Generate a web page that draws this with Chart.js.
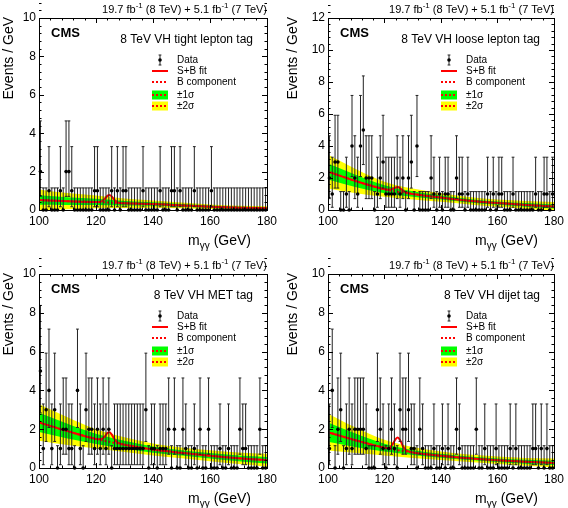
<!DOCTYPE html>
<html>
<head>
<meta charset="utf-8">
<title>CMS VH diphoton categories</title>
<script src="https://cdn.jsdelivr.net/npm/chart.js@4.4.0/dist/chart.umd.min.js"></script>
<style>
  body { margin: 0; background: #fff; }
  #wrap { position: relative; width: 568px; height: 508px; }
  .panel { position: absolute; width: 284px; height: 254px; }
</style>
</head>
<body>
<div id="wrap">
  <div class="panel" style="left:0;top:0"><canvas id="c1" width="284" height="254"></canvas></div>
  <div class="panel" style="left:284px;top:0"><canvas id="c2" width="284" height="254"></canvas></div>
  <div class="panel" style="left:0;top:254px"><canvas id="c3" width="284" height="254"></canvas></div>
  <div class="panel" style="left:284px;top:254px"><canvas id="c4" width="284" height="254"></canvas></div>
</div>
<script>
// m_gg histogram: 1 GeV bins from 100 to 180
const binLow = 100;
const binWidth = 1;

const countsTightLepton = [2,0,0,1,0,0,0,1,0,2, 2,1,0,0,0,0,0,0,0,1, 1,0,0,0,0,1,0,1,0,1,
  1,0,0,0,0,0,1,0,0,0, 0,0,1,0,0,0,1,1,0,1, 0,0,0,0,1,0,0,0,0,0, 1,0,0,0,0,0,0,0,0,0, 0,0,0,0,0,0,0,0,0,0];
const countsLooseLepton = [2,1,3,3,0,0,1,0,4,2, 1,4,5,2,2,2,0,1,2,3, 1,1,1,1,2,1,2,0,2,3,
  0,4,0,0,0,0,2,1,0,1, 0,1,1,0,0,2,1,1,0,1, 0,0,0,0,0,0,1,0,1,0, 1,1,0,0,0,1,0,0,0,0, 0,0,0,1,0,0,1,1,0,1];
const countsMet = [5,1,3,4,1,3,0,1,2,2, 1,1,0,4,1,0,3,2,2,1, 2,1,2,1,2,0,1,1,1,1,
  1,1,1,1,1,1,1,3,0,1, 1,0,1,1,1,2,0,2,0,0, 2,1,0,0,1,0,2,0,0,2, 0,0,0,1,0,0,1,0,0,0, 2,1,1,0,0,0,0,2,0,0];
const countsDijet = [1,4,0,2,3,0,1,2,1,2, 2,2,2,1,0,0,0,3,2,1, 0,1,2,1,0,3,2,2,3,1,
  1,0,2,1,0,0,0,1,0,0, 1,0,1,0,0,2,1,0,0,0, 0,0,2,0,0,1,0,0,0,1, 0,0,0,0,1,0,1,0,0,0, 0,0,1,1,0,1,0,1,0,0];

// Poisson interval edges for n = 0..5
const poissonLow = [0, 0.17, 0.71, 1.37, 2.09, 2.84];
const poissonHigh = [1.15, 3.30, 4.64, 5.92, 7.16, 8.38];

// B component and band half widths, sampled every 10 GeV
const bkgMass = [100, 110, 120, 130, 140, 150, 160, 170, 180];
const bkgTightLepton = [0.52, 0.46, 0.42, 0.35, 0.31, 0.24, 0.17, 0.12, 0.09];
const err1TightLepton = [0.25, 0.2, 0.16, 0.12, 0.09, 0.07, 0.06, 0.05, 0.05];
const err2TightLepton = [0.55, 0.42, 0.33, 0.25, 0.19, 0.15, 0.12, 0.1, 0.1];
const bkgLooseLepton = [2.4, 1.8, 1.3, 1.0, 0.78, 0.58, 0.43, 0.32, 0.22];
const err1LooseLepton = [0.5, 0.38, 0.25, 0.17, 0.13, 0.11, 0.1, 0.11, 0.13];
const err2LooseLepton = [1.05, 0.75, 0.47, 0.34, 0.27, 0.23, 0.22, 0.24, 0.28];
const bkgMet = [2.35, 1.9, 1.5, 1.2, 0.95, 0.78, 0.63, 0.5, 0.4];
const err1Met = [0.5, 0.38, 0.26, 0.2, 0.16, 0.14, 0.14, 0.15, 0.17];
const err2Met = [0.95, 0.72, 0.5, 0.38, 0.31, 0.28, 0.28, 0.3, 0.34];
const bkgDijet = [1.85, 1.42, 1.05, 0.8, 0.63, 0.5, 0.4, 0.32, 0.26];
const err1Dijet = [0.5, 0.35, 0.2, 0.13, 0.1, 0.09, 0.09, 0.1, 0.11];
const err2Dijet = [0.95, 0.65, 0.4, 0.28, 0.22, 0.19, 0.19, 0.2, 0.23];

// S+B fit curve, denser around the peak
const sbMass = [100, 110, 120, 121, 122, 123, 124, 124.7, 125.5, 126.5, 127.5, 128.5, 130, 140, 150, 160, 170, 180];
const sbTightLepton = [0.52, 0.46, 0.42, 0.42, 0.45, 0.565, 0.735, 0.785, 0.71, 0.52, 0.40, 0.365, 0.35, 0.31, 0.24, 0.17, 0.12, 0.09];
const sbLooseLepton = [2.4, 1.8, 1.3, 1.27, 1.28, 1.33, 1.41, 1.43, 1.36, 1.21, 1.11, 1.05, 1.0, 0.78, 0.58, 0.43, 0.32, 0.22];
const sbMet = [2.35, 1.9, 1.5, 1.48, 1.50, 1.61, 1.80, 1.84, 1.73, 1.48, 1.32, 1.25, 1.2, 0.95, 0.78, 0.63, 0.5, 0.4];
const sbDijet = [1.85, 1.42, 1.05, 1.03, 1.07, 1.25, 1.5, 1.57, 1.44, 1.14, 0.93, 0.86, 0.8, 0.63, 0.5, 0.4, 0.32, 0.26];

const legendLabels = ['Data', 'S+B fit', 'B component', '\u00b11\u03c3', '\u00b12\u03c3'];

const FONT = "'Liberation Sans', Arial, Helvetica, sans-serif";
Chart.defaults.font.family = FONT;
Chart.defaults.color = '#000';

const panels = [
  { id: 'c1', label: '8 TeV VH tight lepton tag', counts: countsTightLepton, bkg: bkgTightLepton,
    err1: err1TightLepton, err2: err2TightLepton, sb: sbTightLepton, yMax: 10,
    area: { left: 39, right: 267, top: 18, bottom: 210 } },
  { id: 'c2', label: '8 TeV VH loose lepton tag', counts: countsLooseLepton, bkg: bkgLooseLepton,
    err1: err1LooseLepton, err2: err2LooseLepton, sb: sbLooseLepton, yMax: 12,
    area: { left: 44, right: 273, top: 18, bottom: 210 } },
  { id: 'c3', label: '8 TeV VH MET tag', counts: countsMet, bkg: bkgMet,
    err1: err1Met, err2: err2Met, sb: sbMet, yMax: 10,
    area: { left: 39, right: 267, top: 20, bottom: 214 } },
  { id: 'c4', label: '8 TeV VH dijet tag', counts: countsDijet, bkg: bkgDijet,
    err1: err1Dijet, err2: err2Dijet, sb: sbDijet, yMax: 10,
    area: { left: 44, right: 273, top: 20, bottom: 214 } }
];

const DATA_INDEX = 6;

// draw text made of [string, mode] pieces; mode 0 normal, 1 superscript, 2 subscript
function drawRich(ctx, pieces, xRight, y, size) {
  const fontFor = m => (m === 0 ? size : Math.round(size * 0.72)) + 'px ' + FONT;
  let total = 0;
  pieces.forEach(([s, m]) => { ctx.font = fontFor(m); total += ctx.measureText(s).width; });
  let x = xRight - total;
  ctx.textAlign = 'left';
  ctx.textBaseline = 'middle';
  pieces.forEach(([s, m]) => {
    ctx.font = fontFor(m);
    const dy = m === 1 ? -size * 0.35 : (m === 2 ? size * 0.35 : 0);
    ctx.fillText(s, x, y + dy);
    x += ctx.measureText(s).width;
  });
}

function errorBar(ctx, x, yLo, yHi, cap) {
  ctx.moveTo(x, yLo); ctx.lineTo(x, yHi);
  ctx.moveTo(x - cap, yHi); ctx.lineTo(x + cap, yHi);
  ctx.moveTo(x - cap, yLo); ctx.lineTo(x + cap, yLo);
}

function makeDecor(p) {
  return {
    id: 'decor',
    beforeDatasetDraw(chart, args) {
      if (args.index !== DATA_INDEX) return;
      const ctx = chart.ctx, xs = chart.scales.x, ys = chart.scales.y;
      ctx.save();
      ctx.strokeStyle = '#222';
      ctx.lineWidth = 1;
      ctx.beginPath();
      p.counts.forEach((n, i) => {
        const px = xs.getPixelForValue(binLow + (i + 0.5) * binWidth);
        errorBar(ctx, px, ys.getPixelForValue(poissonLow[n]), ys.getPixelForValue(poissonHigh[n]), 1.4);
      });
      ctx.stroke();
      ctx.restore();
    },
    afterDatasetsDraw(chart) {
      const ctx = chart.ctx, a = chart.chartArea, xs = chart.scales.x, ys = chart.scales.y;
      ctx.save();
      ctx.strokeStyle = '#000';
      ctx.lineWidth = 1;
      ctx.beginPath();
      // ticks on all four sides, pointing inwards
      for (let m = 100; m <= 180; m += 4) {
        const px = Math.round(xs.getPixelForValue(m)) + 0.5;
        const len = (m - 100) % 20 === 0 ? 5 : 2.5;
        ctx.moveTo(px, a.bottom); ctx.lineTo(px, a.bottom - len);
        ctx.moveTo(px, a.top); ctx.lineTo(px, a.top + len);
      }
      for (let k = 0; k <= p.yMax * 5; k++) {
        const v = k * 0.4;
        const py = Math.round(ys.getPixelForValue(v)) + 0.5;
        const len = k % 5 === 0 ? 5 : 2.5;
        ctx.moveTo(a.left, py); ctx.lineTo(a.left + len, py);
        ctx.moveTo(a.right, py); ctx.lineTo(a.right - len, py);
      }
      ctx.stroke();
      ctx.strokeRect(Math.round(a.left) + 0.5, Math.round(a.top) + 0.5,
        Math.round(a.right - a.left), Math.round(a.bottom - a.top));
      ctx.restore();
    },
    afterDraw(chart) {
      const ctx = chart.ctx, a = chart.chartArea;
      ctx.save();
      ctx.fillStyle = '#000';

      drawRich(ctx, [['19.7 fb', 0], ['-1', 1], [' (8 TeV) + 5.1 fb', 0], ['-1', 1], [' (7 TeV)', 0]],
        a.right, a.top - 8, 11);
      drawRich(ctx, [['m', 0], ['\u03b3\u03b3', 2], [' (GeV)', 0]], a.right - 16, a.bottom + 31, 14);

      ctx.save();
      ctx.translate(9, a.top - 1);
      ctx.rotate(-Math.PI / 2);
      ctx.font = '14px ' + FONT;
      ctx.textAlign = 'right';
      ctx.textBaseline = 'middle';
      ctx.fillText('Events / GeV', 0, 0);
      ctx.restore();

      ctx.font = 'bold 13px ' + FONT;
      ctx.textAlign = 'left';
      ctx.textBaseline = 'middle';
      ctx.fillText('CMS', a.left + 12, a.top + 15);

      ctx.font = '12px ' + FONT;
      ctx.textAlign = 'right';
      ctx.fillText(p.label, a.right - 14, a.top + 22);

      // legend
      const sx = a.left + 113, sw = 16, tx = a.left + 138;
      const rows = [42, 53, 64, 77, 88].map(d => a.top + d);
      ctx.font = '10px ' + FONT;
      ctx.textAlign = 'left';
      legendLabels.forEach((t, i) => ctx.fillText(t, tx, rows[i]));

      ctx.strokeStyle = '#222';
      ctx.lineWidth = 1;
      ctx.beginPath();
      errorBar(ctx, sx + sw / 2, rows[0] + 5, rows[0] - 5, 1.4);
      ctx.stroke();
      ctx.beginPath();
      ctx.arc(sx + sw / 2, rows[0], 1.8, 0, Math.PI * 2);
      ctx.fill();

      ctx.fillStyle = '#00ff00';
      ctx.fillRect(sx, rows[3] - 4.5, sw, 9);
      ctx.fillStyle = '#ffff00';
      ctx.fillRect(sx, rows[4] - 4.5, sw, 9);

      ctx.strokeStyle = '#ff0000';
      ctx.lineWidth = 2;
      ctx.beginPath();
      ctx.moveTo(sx, rows[1]); ctx.lineTo(sx + sw, rows[1]);
      ctx.stroke();
      ctx.setLineDash([2, 2]);
      ctx.beginPath();
      [2, 3, 4].forEach(r => { ctx.moveTo(sx, rows[r]); ctx.lineTo(sx + sw, rows[r]); });
      ctx.stroke();
      ctx.restore();
    }
  };
}

function buildChart(p) {
  const bins = p.counts.map((n, i) => ({ x: binLow + (i + 0.5) * binWidth, y: n }));
  const band = (w, s) => bkgMass.map((m, i) => ({ x: m, y: p.bkg[i] + s * w[i] }));
  const curve = { pointRadius: 0, cubicInterpolationMode: 'monotone' };
  const edge = { ...curve, borderWidth: 0, borderColor: 'transparent', fill: false };

  new Chart(document.getElementById(p.id), {
    type: 'line',
    data: {
      datasets: [
        { ...edge, data: band(p.err2, 1), fill: '+1', backgroundColor: '#ffff00', order: 5 },
        { ...edge, data: band(p.err2, -1), order: 5 },
        { ...edge, data: band(p.err1, 1), fill: '+1', backgroundColor: '#00ff00', order: 4 },
        { ...edge, data: band(p.err1, -1), order: 4 },
        { ...curve, data: bkgMass.map((m, i) => ({ x: m, y: p.bkg[i] })), borderColor: '#ff0000',
          borderWidth: 2, borderDash: [2, 2], fill: false, order: 3 },
        { ...curve, data: sbMass.map((m, i) => ({ x: m, y: p.sb[i] })), borderColor: '#ff0000',
          borderWidth: 2, fill: false, order: 2 },
        { data: bins, showLine: false, pointRadius: 1.8, pointBackgroundColor: '#000',
          pointBorderWidth: 0, clip: false, order: 1 }
      ]
    },
    options: {
      responsive: false,
      animation: false,
      events: [],
      layout: {
        padding: { left: 0, top: p.area.top, right: 284 - p.area.right, bottom: 254 - p.area.bottom - 20 }
      },
      plugins: { legend: { display: false }, tooltip: { enabled: false } },
      scales: {
        x: {
          type: 'linear', min: 100, max: 180,
          grid: { display: false, drawTicks: false }, border: { display: false },
          ticks: { stepSize: 20, padding: 4, maxRotation: 0, autoSkip: false, font: { size: 12 } },
          afterFit(s) { s.height = 20; }
        },
        y: {
          type: 'linear', min: 0, max: p.yMax,
          grid: { display: false, drawTicks: false }, border: { display: false },
          ticks: { stepSize: 2, padding: 3, font: { size: 12 } },
          afterFit(s) { s.width = p.area.left; }
        }
      }
    },
    plugins: [makeDecor(p)]
  });
}

panels.forEach(buildChart);
</script>
</body>
</html>
